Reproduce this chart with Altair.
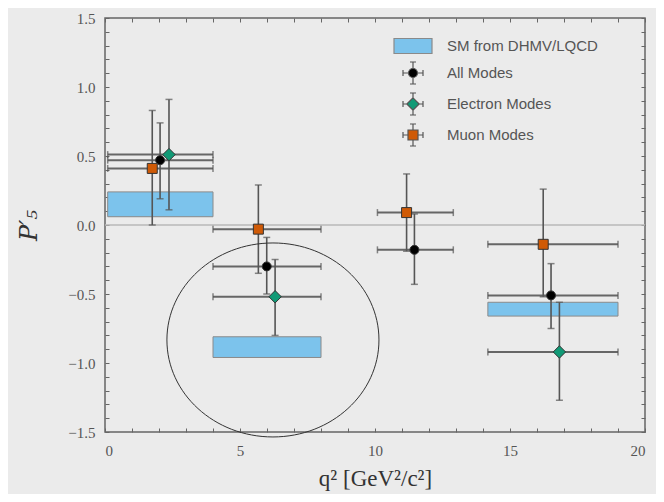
import altair as alt
import pandas as pd

# q^2 bins
bin_lo = [0.1, 4.0, 10.09, 14.18]
bin_hi = [4.0, 8.0, 12.9, 19.0]

# SM prediction boxes (bins 0, 1, 3)
sm_bins = [0, 1, 3]
sm_lo = [0.06, -0.96, -0.66]
sm_hi = [0.24, -0.81, -0.56]

# All modes
all_bins = [0, 1, 2, 3]
all_q = [2.04, 5.99, 11.46, 16.52]
all_v = [0.47, -0.30, -0.18, -0.51]
all_up = [0.74, -0.09, 0.08, -0.28]
all_dn = [0.19, -0.50, -0.43, -0.75]

# Electron modes
ele_bins = [0, 1, 3]
ele_q = [2.37, 6.30, 16.83]
ele_v = [0.51, -0.52, -0.92]
ele_up = [0.91, -0.25, -0.56]
ele_dn = [0.11, -0.80, -1.27]

# Muon modes
mu_bins = [0, 1, 2, 3]
mu_q = [1.75, 5.68, 11.17, 16.23]
mu_v = [0.41, -0.03, 0.09, -0.14]
mu_up = [0.83, 0.29, 0.37, 0.26]
mu_dn = [0.00, -0.35, -0.19, -0.52]

legend_labels = ["SM from DHMV/LQCD", "All Modes", "Electron Modes", "Muon Modes"]
series_colors = ["#7cc3ec", "#000000", "#119a76", "#cf5a06"]
legend_strokes = ["#8a8a8a", "#555555", "#555555", "#555555"]

# annotation ellipse around the 4-8 bin
ell_q = [6.22]
ell_v = [-0.833]

x_ticks = list(range(0, 21))
y_ticks = [round(-1.5 + 0.1 * i, 1) for i in range(31)]

# ---------------- tables ----------------
sm_df = pd.DataFrame({
    "qlo": [bin_lo[b] for b in sm_bins],
    "qhi": [bin_hi[b] for b in sm_bins],
    "lo": sm_lo, "hi": sm_hi,
})

def series_df(name, bins, q, v, up, dn):
    return pd.DataFrame({
        "series": name,
        "q": q, "v": v, "up": up, "dn": dn,
        "qlo": [bin_lo[b] for b in bins],
        "qhi": [bin_hi[b] for b in bins],
    })

df_all = series_df("All Modes", all_bins, all_q, all_v, all_up, all_dn)
df_ele = series_df("Electron Modes", ele_bins, ele_q, ele_v, ele_up, ele_dn)
df_mu = series_df("Muon Modes", mu_bins, mu_q, mu_v, mu_up, mu_dn)
pts = pd.concat([df_all, df_ele, df_mu], ignore_index=True)

ell_df = pd.DataFrame({"q": ell_q, "v": ell_v})
leg_df = pd.DataFrame({"label": legend_labels})

xs = alt.Scale(domain=[0, 20], nice=False, zero=False)
ys = alt.Scale(domain=[-1.5, 1.5], nice=False, zero=False)

TICK = "#666666"
LBL = "#555555"

x_main = alt.Axis(
    values=x_ticks, format="d",
    labelExpr="datum.value % 5 === 0 ? datum.label : ''",
    domain=False, offset=-4, tickSize=4, tickColor=TICK, tickWidth=1,
    labelFont="Liberation Serif", labelFontSize=15, labelColor=LBL, labelPadding=11,
    grid=False, title="q² [GeV²/c²]", titleFont="Liberation Serif",
    titleFontSize=23, titleFontWeight="normal", titleColor="#333333", titlePadding=9,
)
y_main = alt.Axis(
    values=y_ticks,
    labelExpr="abs(datum.value*2 - round(datum.value*2)) < 0.001 ? replace(format(datum.value, '.1f'), '-', '\u2212') : ''",
    domain=False, offset=-4, tickSize=4, tickColor=TICK, tickWidth=1,
    labelFont="Liberation Serif", labelFontSize=15, labelColor=LBL, labelPadding=10,
    grid=False, title="P′₅", titleFont="DejaVu Serif", titleFontStyle="italic",
    titleFontSize=24, titleFontWeight="normal", titleColor="#333333", titlePadding=26,
)
x_mirror = alt.Axis(orient="top", values=x_ticks, labels=False, domain=False, offset=-4,
                    tickSize=4, tickColor=TICK, tickWidth=1, grid=False, title=None)
y_mirror = alt.Axis(orient="right", values=y_ticks, labels=False, domain=False, offset=-4,
                    tickSize=4, tickColor=TICK, tickWidth=1, grid=False, title=None)

zero = alt.Chart(pd.DataFrame({"v": [0.0]})).mark_rule(color="#b8b8b8", strokeWidth=1.5).encode(
    y=alt.Y("v:Q", scale=ys, axis=None)
)

sm = alt.Chart(sm_df).mark_rect(fill="#7cc3ec", stroke="#8a8a8a", strokeWidth=1).encode(
    x=alt.X("qlo:Q", scale=xs, axis=x_main), x2="qhi:Q",
    y=alt.Y("lo:Q", scale=ys, axis=y_main), y2="hi:Q",
)

hbars = alt.Chart(pts).mark_rule(color="#666666", strokeWidth=2).encode(
    x=alt.X("qlo:Q", scale=xs, axis=None), x2="qhi:Q",
    y=alt.Y("v:Q", scale=ys, axis=None),
)
vbars = alt.Chart(pts).mark_rule(color="#555555", strokeWidth=1.6).encode(
    x=alt.X("q:Q", scale=xs, axis=None),
    y=alt.Y("dn:Q", scale=ys, axis=None), y2="up:Q",
)
vcaps = alt.Chart(pts).transform_fold(["up", "dn"], as_=["end", "val"]).mark_tick(
    orient="horizontal", size=7, thickness=1.5, color="#555555"
).encode(
    x=alt.X("q:Q", scale=xs, axis=None),
    y=alt.Y("val:Q", scale=ys, axis=None),
)
hcaps = alt.Chart(pts).transform_fold(["qlo", "qhi"], as_=["end", "val"]).mark_tick(
    orient="vertical", size=7, thickness=1.5, color="#555555"
).encode(
    x=alt.X("val:Q", scale=xs, axis=None),
    y=alt.Y("v:Q", scale=ys, axis=None),
)

circle_p = "M-0.45,0A0.45,0.45,0,1,0,0.45,0A0.45,0.45,0,1,0,-0.45,0Z"
diamond_p = "M0,-0.62L0.62,0L0,0.62L-0.62,0Z"
square_p = "M-0.5,-0.5L0.5,-0.5L0.5,0.5L-0.5,0.5Z"

def point_layer(df, shape, color, axes=False):
    xa = x_mirror if axes else None
    ya = y_mirror if axes else None
    return alt.Chart(df).mark_point(
        shape=shape, size=400, filled=True, fill=color, stroke="#333333",
        strokeWidth=1, opacity=1
    ).encode(
        x=alt.X("q:Q", scale=xs, axis=xa),
        y=alt.Y("v:Q", scale=ys, axis=ya),
    )

p_all = point_layer(df_all, circle_p, series_colors[1], axes=True)
p_ele = point_layer(df_ele, diamond_p, series_colors[2])
p_mu = point_layer(df_mu, square_p, series_colors[3])

ell_path = "M-1.093,0A1.093,1,0,1,0,1.093,0A1.093,1,0,1,0,-1.093,0Z"
ellipse = alt.Chart(ell_df).mark_point(
    shape=ell_path, size=37636, filled=False, color="#333333", strokeWidth=1, opacity=1
).encode(
    x=alt.X("q:Q", scale=xs, axis=None),
    y=alt.Y("v:Q", scale=ys, axis=None),
)

cross = ("M-1,0L-0.5,0M0.5,0L1,0M0,-1.1L0,-0.5M0,0.5L0,1.1"
         "M-1,-0.3L-1,0.3M1,-0.3L1,0.3M-0.3,-1.1L0.3,-1.1M-0.3,1.1L0.3,1.1")
legend_shapes = [
    "M-1.9,-0.75L1.9,-0.75L1.9,0.75L-1.9,0.75Z",
    circle_p + cross,
    diamond_p + cross,
    square_p + cross,
]
leg = alt.Legend(
    title=None, orient="none", legendX=297, legendY=17, symbolSize=400,
    symbolStrokeWidth=1.2, symbolOpacity=1,
    labelFont="Liberation Sans", labelFontSize=15, labelColor=LBL,
    labelOffset=23, rowPadding=3, padding=0, labelLimit=300,
)
legend_layer = alt.Chart(leg_df).mark_point(
    filled=True, opacity=0, strokeWidth=1.2
).encode(
    fill=alt.Fill("label:N", scale=alt.Scale(domain=legend_labels, range=series_colors), legend=leg),
    stroke=alt.Stroke("label:N", scale=alt.Scale(domain=legend_labels, range=legend_strokes), legend=leg),
    shape=alt.Shape("label:N", scale=alt.Scale(domain=legend_labels, range=legend_shapes), legend=leg),
)

chart = alt.layer(
    zero, sm, hbars, vbars, vcaps, hcaps, p_all, p_ele, p_mu, ellipse, legend_layer
).resolve_axis(
    x="independent", y="independent"
).properties(
    width=540, height=414,
    padding={"left": 97, "top": 10, "right": 11, "bottom": 62},
    autosize=alt.AutoSizeParams(type="none"),
    background="#ebebeb",
).configure_view(
    stroke="#666666", strokeWidth=1.5
)

chart.save("out.html", embed_options={"renderer": "svg", "actions": False})
